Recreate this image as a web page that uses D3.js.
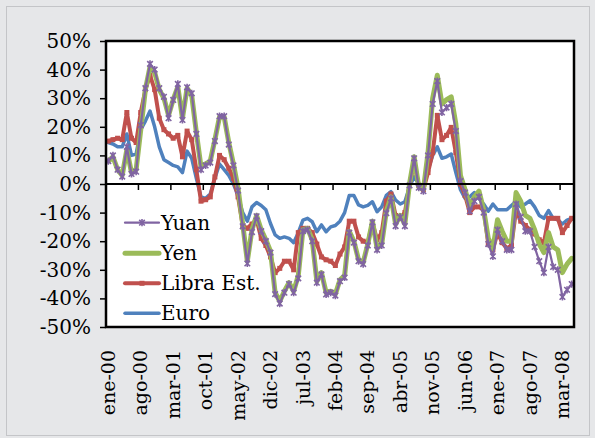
<!DOCTYPE html>
<html><head><meta charset="utf-8">
<script src="https://cdn.jsdelivr.net/npm/d3@7"></script>
<style>
body{margin:0;background:#e6e7e9}
svg{display:block}
text{font-family:"DejaVu Serif",serif;fill:#000}
</style>
</head><body>
<svg id="c" width="595" height="438"></svg>
<script>
const monthNames = ["ene","feb","mar","abr","may","jun","jul","ago","sep","oct","nov","dic"];
const yearNames = ["00","01","02","03","04","05","06","07","08"];
const categories = [];
yearNames.forEach(yy => monthNames.forEach(m => { if (categories.length < 101) categories.push(m + "-" + yy); }));
const tickLabels = ["ene-00","ago-00","mar-01","oct-01","may-02","dic-02","jul-03","feb-04","sep-04","abr-05","nov-05","jun-06","ene-07","ago-07","mar-08"];
const yTicks = [50,40,30,20,10,0,-10,-20,-30,-40,-50];
const seriesNames = ["Yuan","Yen","Libra Est.","Euro"];

const yuan = [8,10,5,2.6,13,3.5,4.3,20.6,33.5,42,
  40,33.5,30.5,23,29.4,35,22.4,33.8,31.7,17.5,
  5,6.5,7.5,15,23.7,23.7,13.8,6.5,-2.3,-14.8,
  -27.8,-16.8,-11.3,-16.5,-20,-24,-38.5,-41.8,-38,-35,
  -38,-33,-16.5,-16,-20,-34.5,-31.6,-38.6,-38,-39,
  -34,-32.7,-17,-20.5,-27,-28,-21.5,-13.4,-23,-21.5,
  -10.2,-5,-14.7,-11.6,-14.7,-0.5,9,-1.3,-2.5,10,
  28,36,25,26.7,28,18.5,1,-3,-9.5,-6,
  -4.5,-10,-21,-25.3,-16,-20,-23,-23,-7,-11.5,
  -16.5,-16.5,-22,-27,-31,-22,-29,-30,-39.5,-37,-35];
const yen = [8,9.5,5,3,12,4,5,19,33,41,
  39,33,30,24,29.5,34,23,33.5,31,18,
  6,7,8,15.5,23.5,23.5,14.5,7,-1.5,-14,
  -27,-16,-11,-16,-19.5,-23.5,-38,-41,-37.5,-34.5,
  -37.5,-32,-16,-15.5,-19.5,-34,-31,-38,-37.5,-38.5,
  -33.5,-32,-16.5,-20,-26.5,-27.5,-21,-13,-22.5,-21,
  -9.5,-4.5,-14,-11,-14,0,9.5,-1,-2,11,
  30,38,28,29.5,30.5,21,3,-2,-8,-4.5,
  -2.5,-9,-19,-22.5,-12.5,-16.5,-20,-20,-3,-6,
  -11,-12,-16,-21,-24,-17,-22,-23,-31,-28,-26];
const libra = [15,15.5,16,15.5,25,16,14.5,25,33,38,
  33,23,19,17.5,16,17,9.5,18.5,15.5,5,
  -6,-5.5,-4.5,2.5,10,8.5,5.5,2,-4.5,-14.5,
  -15.5,-14,-12.5,-19,-21.5,-25.5,-31,-29.5,-27,-27,
  -30,-17,-15.5,-15.5,-17,-21,-25.5,-26.5,-27,-28.5,
  -24.5,-22,-13,-13,-18.5,-20,-20.5,-13.5,-19.5,-17,
  -6,-3.5,-11,-12,-10,-0.5,7.5,-0.5,-2,4,
  11,24,15.5,17,19.8,11,0,-4,-10,-8,
  -8,-9,-21,-23,-17,-20.5,-22.5,-21.5,-9,-13,
  -14.5,-16,-17.5,-19.5,-20.5,-12,-12,-12,-17,-14.5,-12];
const euro = [14.5,14,13,13,17.5,10,10.5,19,22,25.5,
  20,13,8.5,7.5,6.5,6,4,11.5,9,2,
  -4.5,-5,-3.5,2,7,5,3,0,-4,-10,
  -13,-8,-6.5,-7.5,-9,-13.8,-17.8,-19,-18.5,-19,
  -20.5,-17,-12.6,-12,-13.2,-16.7,-14.3,-16.7,-15,-14.5,
  -13,-10,-4,-4,-7.3,-8,-7.5,-6.2,-9.7,-8,
  -4,-2.7,-5.6,-7,-6.2,-1,2.5,0,-0.5,5,
  10,13,9,9.5,10.5,4,-2,-5,-4.5,-3,
  -5,-7,-9.5,-7,-9,-9,-9,-7.5,-6,-8,
  -7,-5.8,-8,-11,-12,-9.3,-12,-12.5,-14,-12.6,-12];

const colors = {"Yuan":"#8064A2","Yen":"#9BBB59","Libra Est.":"#C0504D","Euro":"#4F81BD"};
const widths = {"Yuan":2.2,"Yen":5,"Libra Est.":4,"Euro":3.5};
const dataBy = {"Yuan":yuan,"Yen":yen,"Libra Est.":libra,"Euro":euro};

const svg = d3.select("#c");
const W = 595, H = 438;
const plot = {l:106, r:574, t:41, b:327};

svg.append("rect").attr("x",0).attr("y",0).attr("width",W).attr("height",H).attr("fill","#e6e7e9");
svg.append("rect").attr("x",6.5).attr("y",6.5).attr("width",583).attr("height",429)
  .attr("fill","#e6e7e9").attr("stroke","#c4c5c8").attr("stroke-width",1);

const x = d3.scaleBand().domain(categories).range([plot.l, plot.r]).paddingInner(0).paddingOuter(0);
const bw = x.bandwidth();
const cx = c => x(c) + bw/2;
const y = d3.scaleLinear().domain([-50,50]).range([plot.b, plot.t]);

svg.append("rect").attr("x",plot.l).attr("y",plot.t).attr("width",plot.r-plot.l).attr("height",plot.b-plot.t)
  .attr("fill","#ffffff");

// y axis
const yAxis = d3.axisLeft(y).tickValues(yTicks).tickFormat(d => d + "%").tickSize(6).tickPadding(9);
const gy = svg.append("g").attr("transform", `translate(${plot.l},0)`).call(yAxis);
gy.select(".domain").remove();
gy.selectAll(".tick line").attr("stroke","#000").attr("stroke-width",1.5);
gy.selectAll(".tick text").attr("font-size",20).attr("font-family","DejaVu Serif").attr("fill","#000");

// x axis ticks at category boundaries along the zero line
const tickCats = tickLabels.map(t => categories[categories.indexOf(t)]);
svg.append("g").selectAll("line").data(tickCats).join("line")
  .attr("x1", d => x(d)).attr("x2", d => x(d))
  .attr("y1", y(0)).attr("y2", y(0)+6)
  .attr("stroke","#000").attr("stroke-width",1.5);

// x labels at bottom
svg.append("g").selectAll("text").data(tickLabels).join("text")
  .attr("transform", d => `translate(${cx(d)},350) rotate(-90)`)
  .attr("text-anchor","end").attr("dy","0.35em")
  .attr("font-size",19).text(d => d);

// lines
const line = d3.line().x((d,i) => cx(categories[i])).y(d => y(d));
const drawOrder = ["Euro","Libra Est.","Yen","Yuan"];
const clip = svg.append("defs").append("clipPath").attr("id","pc").append("rect")
  .attr("x",plot.l).attr("y",plot.t).attr("width",plot.r-plot.l).attr("height",plot.b-plot.t);
const gl = svg.append("g").attr("clip-path","url(#pc)");
drawOrder.forEach(name => {
  gl.append("path").datum(dataBy[name]).attr("d", line)
    .attr("fill","none").attr("stroke", colors[name]).attr("stroke-width", widths[name])
    .attr("stroke-linejoin","round").attr("stroke-linecap","round");
  if (name === "Libra Est.") {
    gl.append("g").selectAll("rect").data(dataBy[name]).join("rect")
      .attr("x",(d,i)=>cx(categories[i])-2.5).attr("y",d=>y(d)-2.5)
      .attr("width",5).attr("height",5).attr("fill",colors[name]);
  }
  if (name === "Yuan") {
    gl.append("g").selectAll("path").data(dataBy[name]).join("path")
      .attr("transform",(d,i)=>`translate(${cx(categories[i])},${y(d)})`)
      .attr("d","M-2.8,-2.8L2.8,2.8M-2.8,2.8L2.8,-2.8M0,-3.6L0,3.6")
      .attr("stroke",colors[name]).attr("stroke-width",1.6).attr("fill","none");
  }
});

// zero line
svg.append("line").attr("x1",plot.l).attr("x2",plot.r).attr("y1",y(0)).attr("y2",y(0))
  .attr("stroke","#000").attr("stroke-width",2);

// plot border
svg.append("rect").attr("x",plot.l).attr("y",plot.t).attr("width",plot.r-plot.l).attr("height",plot.b-plot.t)
  .attr("fill","none").attr("stroke","#000").attr("stroke-width",2.5);

// legend
const legY = [222.7, 253.3, 283.3, 313.3];
const lg = svg.append("g");
seriesNames.forEach((name,k) => {
  const yy = legY[k];
  lg.append("line").attr("x1",125).attr("x2",159).attr("y1",yy).attr("y2",yy)
    .attr("stroke",colors[name]).attr("stroke-width",widths[name]).attr("stroke-linecap","round");
  if (name === "Yuan") {
    lg.append("path").attr("transform",`translate(142,${yy})`)
      .attr("d","M-2.8,-2.8L2.8,2.8M-2.8,2.8L2.8,-2.8M0,-3.6L0,3.6")
      .attr("stroke",colors[name]).attr("stroke-width",1.6);
  }
  if (name === "Libra Est.") {
    lg.append("rect").attr("x",139.5).attr("y",yy-2.5).attr("width",5).attr("height",5).attr("fill",colors[name]);
  }
  lg.append("text").attr("x",161).attr("y",yy+7).attr("font-size",20).text(name);
});
</script>
</body></html>
